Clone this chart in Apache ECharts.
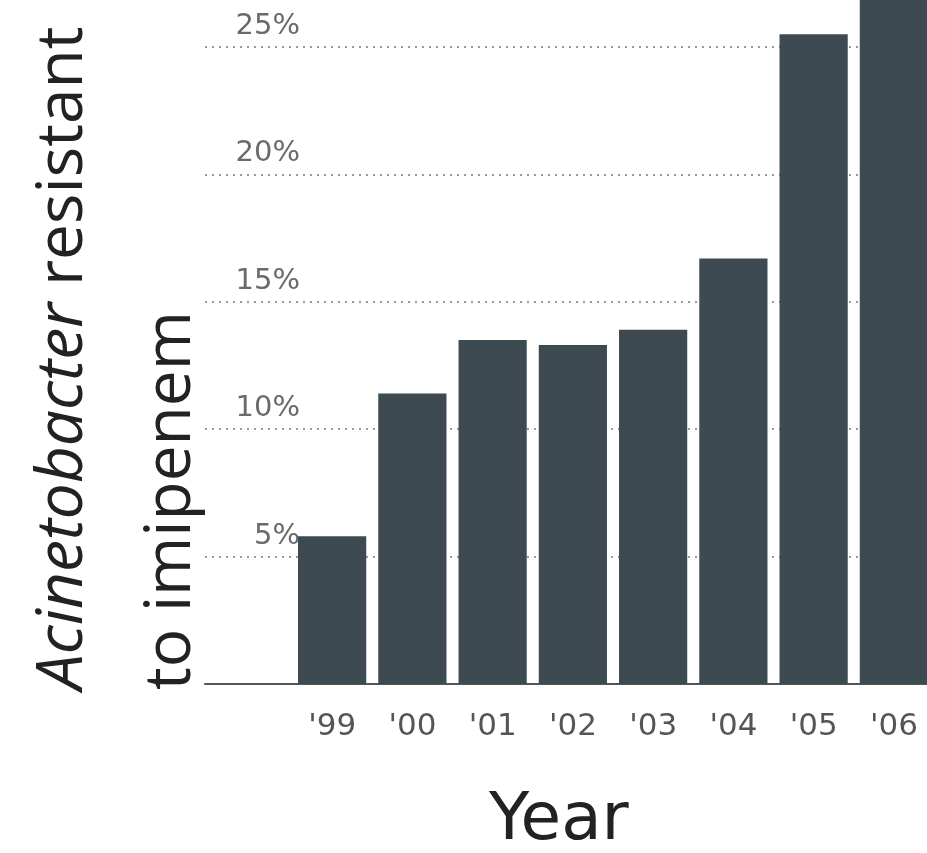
<!DOCTYPE html>
<html>
<head>
<meta charset="utf-8">
<script src="https://cdn.jsdelivr.net/npm/echarts@6/dist/echarts.min.js"></script>
<style>
  html, body { margin: 0; padding: 0; background: #fff; }
  #chart { width: 927px; height: 853px; }
</style>
</head>
<body>
<div id="chart"></div>
<script>
// data
var years = ["'99", "'00", "'01", "'02", "'03", "'04", "'05", "'06"];
var resistantPct = [5.8, 11.4, 13.5, 13.3, 13.9, 16.7, 25.5, 28.5];
var yTicks = [0, 5, 10, 15, 20, 25];

var chart = echarts.init(document.getElementById('chart'));
chart.setOption({
    animation: false,
    backgroundColor: '#fff',
    grid: [
        // gridlines + baseline (reach further left than the bars)
        { left: 205, right: 0, top: 47, bottom: 169, outerBoundsMode: 'none' },
        // bars, last one runs off the right edge
        { left: 292, width: 642, top: 47, bottom: 169, outerBoundsMode: 'none' }
    ],
    xAxis: [{
        gridIndex: 0,
        type: 'category',
        data: [''],
        axisLine: { lineStyle: { color: '#555', width: 2 } },
        axisTick: { show: false },
        axisLabel: { show: false }
    }, {
        gridIndex: 1,
        type: 'category',
        data: years,
        axisLine: { show: false },
        axisTick: { show: false },
        axisLabel: {
            margin: 27,
            fontFamily: 'DejaVu Sans',
            fontSize: 31,
            color: '#555'
        }
    }],
    yAxis: [{
        gridIndex: 0,
        type: 'value',
        min: yTicks[0],
        max: yTicks[yTicks.length - 1],
        interval: 5,
        axisLine: { show: false },
        axisTick: { show: false },
        axisLabel: {
            margin: -95,
            align: 'right',
            verticalAlign: 'bottom',
            padding: [0, 0, 6, 0],
            fontFamily: 'DejaVu Sans',
            fontSize: 29,
            color: '#6a6a6a',
            formatter: function (v) { return v === 0 ? '' : v + '%'; }
        },
        splitLine: {
            lineStyle: { color: '#999', width: 2, type: [2, 5] }
        }
    }, {
        gridIndex: 1,
        type: 'value',
        min: yTicks[0],
        max: yTicks[yTicks.length - 1],
        interval: 5,
        show: false
    }],
    title: {
        text: 'Year',
        left: 489,
        top: 789,
        padding: 0,
        textStyle: {
            fontFamily: 'DejaVu Sans',
            fontWeight: 'normal',
            fontSize: 66,
            color: '#222'
        }
    },
    graphic: [{
        type: 'text',
        x: 96,
        y: 690,
        rotation: Math.PI / 2,
        style: {
            text: '{i|Acinetobacter} resistant',
            font: '64px "Open Sans"',
            fill: '#222',
            align: 'left',
            verticalAlign: 'bottom',
            rich: {
                i: { fontStyle: 'italic', fontFamily: 'Open Sans', fontSize: 64, fill: '#222' }
            }
        }
    }, {
        type: 'text',
        x: 204,
        y: 690,
        rotation: Math.PI / 2,
        style: {
            text: 'to imipenem',
            font: '64px "Open Sans"',
            fill: '#222',
            align: 'left',
            verticalAlign: 'bottom'
        }
    }],
    series: [{
        type: 'bar',
        xAxisIndex: 1,
        yAxisIndex: 1,
        data: resistantPct,
        barCategoryGap: '15%',
        clip: false,
        itemStyle: { color: '#3e4a52' }
    }]
});
</script>
</body>
</html>
